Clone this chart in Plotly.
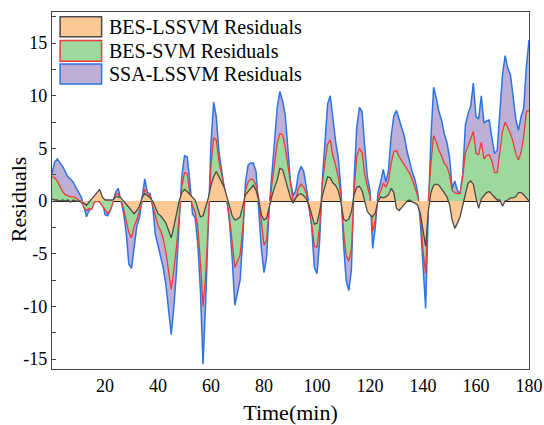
import plotly.graph_objects as go

time_min = list(range(0, 181))

ssa_lssvm = [
    2.6, 3.7, 4.0, 3.7, 3.3, 2.8, 2.3, 2.1, 1.8, 1.3,
    0.9, 0.4, -0.4, -1.5, -0.9, -0.7, 0.0, 0.1, 0.1, 0.0,
    -1.3, -1.4, -0.9, -0.1, 0.8, 1.2, 0.1, -1.1, -3.0, -6.0,
    -6.4, -4.3, -2.4, -1.6, 0.1, 2.1, 0.8, 0.7, -0.5, -3.2,
    -4.2, -5.2, -6.4, -8.0, -10.2, -12.7, -10.0, -6.6, -2.0, 2.4,
    4.3, 4.2, 1.9, -1.2, -1.6, -4.0, -8.5, -15.5, -9.5, -1.5,
    5.5, 9.4, 8.0, 4.7, 3.0, 1.2, 0.0, -2.0, -5.5, -9.9,
    -8.7, -7.5, -3.5, 1.8, 3.4, 3.6, 3.6, 2.8, -0.8, -4.5,
    -6.8, -5.3, -0.5, 2.8, 5.6, 8.9, 10.4, 9.5, 8.2, 5.2,
    1.8, 0.5, 1.0, 2.6, 3.3, 2.8, 1.3, -0.3, -2.5, -6.3,
    -6.9, -3.8, 1.9, 6.0, 9.2, 10.0, 7.5, 5.7, 4.2, 1.2,
    -4.0, -7.5, -8.5, -6.5, 2.0, 7.0, 8.9, 8.5, 5.2, 2.3,
    1.0, -4.5, -2.5, 0.8, 1.8, 3.0, 1.8, 3.0, 6.2, 8.1,
    8.6, 7.7, 6.8, 6.1, 4.7, 3.7, 2.7, 2.0, 0.8, -2.0,
    -6.5, -10.2, -1.0, 6.0, 10.8, 9.8, 8.5, 7.7, 6.4, 5.6,
    4.2, 1.2, 1.9, 1.0, 0.7, 2.6, 7.2, 8.3, 9.0, 11.2,
    8.0, 7.8, 10.0, 7.4, 7.6, 7.7, 6.0, 4.5, 4.8, 8.5,
    12.0, 13.8, 12.6, 12.0, 9.8, 7.8, 6.7, 8.0, 8.8, 12.7,
    15.3,
]

bes_svm = [
    2.3, 2.2, 1.9, 1.4, 0.9, 0.6, 0.5, 0.4, 0.4, 0.3,
    0.1, 0.0, -0.6, -0.9, -0.7, -0.8, -0.1, 0.0, -0.1, -0.5,
    -0.9, -1.2, -0.9, -0.2, 0.6, 0.7, 0.1, -0.7, -1.9, -3.0,
    -3.5, -2.4, -1.8, -0.9, -0.1, 1.1, 0.7, 0.5, -0.5, -1.5,
    -2.3, -2.8, -3.6, -4.9, -6.8, -8.4, -6.5, -4.3, -1.4, 1.4,
    2.7, 2.6, 0.8, -0.4, -1.0, -2.4, -5.8, -10.0, -7.0, -1.2,
    3.4, 6.0, 5.8, 3.8, 2.4, 1.3, 0.1, -1.6, -3.9, -6.3,
    -5.7, -5.1, -2.5, 1.0, 1.8, 2.1, 2.0, 1.5, 0.3, -2.1,
    -4.2, -3.7, -0.5, 1.6, 3.5, 5.5, 6.4, 6.3, 5.1, 3.5,
    1.8, 0.0, 0.1, 1.2, 1.6, 1.3, 0.7, -0.6, -2.2, -4.3,
    -4.4, -2.4, 1.6, 3.7, 5.4, 5.8, 4.3, 3.4, 2.3, 0.7,
    -2.8, -5.2, -5.7, -4.5, 1.0, 4.2, 5.0, 4.6, 2.5, 1.4,
    0.5, -2.9, -1.8, 0.3, 0.9, 1.7, 1.3, 1.9, 3.6, 4.7,
    4.8, 4.2, 3.8, 3.3, 3.0, 2.6, 2.0, 1.2, 0.5, -1.0,
    -4.7, -6.9, 0.0, 3.6, 6.2, 5.6, 4.8, 4.3, 3.6, 3.3,
    2.5, 1.0, 0.8, 0.7, 0.7, 2.3, 4.6, 5.2, 6.0, 6.6,
    4.5, 4.4, 5.6, 4.0, 4.3, 4.4, 3.8, 2.7, 2.7, 4.6,
    6.6, 7.5, 6.9, 6.4, 5.6, 4.5, 3.9, 4.6, 6.1, 8.5,
    8.6,
]

bes_lssvm = [
    0.2, 0.1, 0.1, 0.0, 0.1, 0.0, 0.1, -0.1, 0.1, 0.0,
    0.0, -0.1, -0.2, -0.4, -0.1, 0.2, 0.5, 0.9, 1.1, 0.4,
    0.1, 0.1, 0.1, 0.1, 0.4, 0.4, 0.3, 0.0, -0.3, -0.7,
    -1.0, -1.2, -0.9, -0.5, 0.3, 0.7, 0.5, 0.3, 0.0, -0.7,
    -1.2, -1.4, -1.7, -2.1, -2.8, -3.5, -2.4, -1.0, 0.0, 0.8,
    1.1, 0.9, 0.6, 0.4, 0.1, -0.7, -1.5, -1.4, -0.6, 0.3,
    1.5, 2.3, 2.8, 2.3, 1.8, 1.3, 0.4, -0.6, -1.4, -1.8,
    -1.7, -1.5, -0.5, 0.6, 0.9, 1.2, 1.5, 1.0, 0.1, -1.3,
    -1.8, -1.6, -0.5, 0.5, 1.3, 2.0, 3.1, 3.0, 2.1, 1.3,
    0.3, -0.2, 0.3, 0.6, 0.7, 0.5, 0.2, -0.4, -1.2, -2.2,
    -2.1, -1.0, 0.5, 1.4, 2.3, 2.2, 1.7, 1.5, 1.0, 0.0,
    -1.7, -1.9, -1.7, -1.0, 0.6, 1.3, 1.4, 1.0, 0.0, -1.0,
    -1.3, -1.5, -1.1, 0.0, 0.4, 0.3, 0.4, 0.6, 1.2, 0.8,
    -0.7, -0.9, -0.6, -0.3, 0.0, 0.1, -0.1, -0.2, -0.4, -1.2,
    -2.8, -4.3, -0.9, 0.8, 1.5, 1.6, 1.5, 1.2, 0.8, 0.4,
    -0.3, -1.8, -2.6, -2.1, -1.5, -0.4, 0.8, 1.7, 1.9, 1.6,
    0.3, -0.7, 0.2, 0.5, 0.8, 0.9, 0.6, 0.3, 0.1, 0.1,
    -0.5, 0.0, 0.1, 0.3, 0.3, 0.4, 0.8, 0.8, 0.6, 0.3,
    0.0,
]

x_tick_vals = [20, 40, 60, 80, 100, 120, 140, 160, 180]
y_tick_vals = [-15, -10, -5, 0, 5, 10, 15]
y_tick_text = ["-15", "-10", "-5", "0", "5", "10", "15"]

series_names = ["BES-LSSVM Residuals", "BES-SVM Residuals", "SSA-LSSVM Residuals"]
fill_colors = ["#FCC995", "#9DD89D", "#BDAFD7"]
line_colors = ["#4A4A4A", "#EE3B3B", "#2B74E2"]

FONT = "Liberation Serif, Times New Roman, serif"

fig = go.Figure()
for yvals, name, fc, lc, w in [
    (ssa_lssvm, series_names[2], fill_colors[2], line_colors[2], 1.5),
    (bes_svm, series_names[1], fill_colors[1], line_colors[1], 1.3),
    (bes_lssvm, series_names[0], fill_colors[0], line_colors[0], 1.3),
]:
    fig.add_trace(go.Scatter(
        x=time_min, y=yvals, name=name, mode="lines",
        fill="tozeroy", fillcolor=fc, line=dict(color=lc, width=w),
        showlegend=False,
    ))

# Legend drawn as swatches + labels in paper coordinates
sw_rows = [(0.987, 0.931), (0.920, 0.862), (0.854, 0.798)]
for (y1, y0), name, fc, lc in zip(sw_rows, series_names, fill_colors, line_colors):
    fig.add_shape(type="rect", xref="paper", yref="paper",
                  x0=0.017, x1=0.104, y0=y0, y1=y1,
                  fillcolor=fc, line=dict(color=lc, width=1.5))
    fig.add_annotation(xref="paper", yref="paper", x=0.116, y=(y0 + y1) / 2,
                       xanchor="left", yanchor="middle", text=name, showarrow=False,
                       font=dict(family=FONT, size=20, color="black"))

# y-axis title as a rotated annotation for exact placement
fig.add_annotation(xref="paper", yref="paper", x=-0.071, y=0.476,
                   xanchor="center", yanchor="middle", text="Residuals",
                   textangle=-90, showarrow=False,
                   font=dict(family=FONT, size=22, color="black"))

fig.update_layout(
    width=544, height=425,
    margin=dict(l=52, r=15, t=12, b=56),
    paper_bgcolor="white", plot_bgcolor="white",
    font=dict(family=FONT, size=18, color="black"),
    showlegend=False,
    xaxis=dict(
        range=[0, 180], tickvals=x_tick_vals, ticks="", showgrid=False,
        showline=True, linecolor="#444", linewidth=1.2, mirror=True,
        zeroline=False, automargin=False,
        title=dict(text="Time(min)", font=dict(family=FONT, size=22), standoff=9),
        tickfont=dict(family=FONT, size=18),
    ),
    yaxis=dict(
        range=[-15.95, 17.95], tickvals=y_tick_vals, ticktext=y_tick_text,
        ticks="inside", ticklen=4, tickcolor="#444", showgrid=False,
        minor=dict(ticks="inside", dtick=2.5, ticklen=4, tickcolor="#444", showgrid=False),
        showline=True, linecolor="#444", linewidth=1.2, mirror=True,
        zeroline=True, zerolinecolor="#222", zerolinewidth=1.2, automargin=False,
        tickfont=dict(family=FONT, size=18),
    ),
)

fig.write_html("out.html", config={"displayModeBar": False},
               post_script="document.body.style.margin='0';")
